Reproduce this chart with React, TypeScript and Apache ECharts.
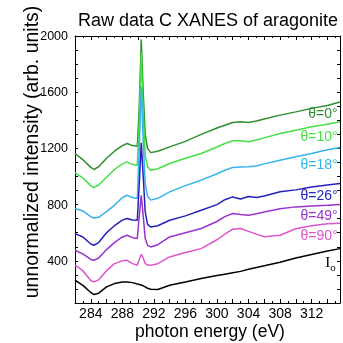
import React, { useEffect, useRef } from "react";
import * as echarts from "echarts";

const energy = [282, 283, 284, 284.4, 285, 286, 287, 288, 288.6, 289.3, 289.9, 290.15, 290.4, 290.65, 290.9, 291.2, 291.6, 292.5, 294, 296, 298, 300, 301, 302, 303, 304, 305, 306, 308, 310, 312, 314, 315.6];

const theta0 = [1164, 1120, 1065, 1050, 1070, 1130, 1180, 1220, 1235, 1220, 1215, 1500, 1975, 1600, 1300, 1200, 1170, 1180, 1211, 1250, 1300, 1345, 1365, 1385, 1390, 1385, 1395, 1410, 1437, 1460, 1485, 1505, 1530];
const theta10 = [1026, 990, 935, 922, 940, 995, 1050, 1090, 1104, 1085, 1080, 1400, 1880, 1450, 1150, 1070, 1045, 1055, 1093, 1130, 1164, 1210, 1235, 1255, 1255, 1247, 1260, 1275, 1306, 1330, 1354, 1372, 1389];
const theta18 = [772, 755, 715, 705, 710, 750, 795, 850, 867, 850, 844, 1200, 1640, 1250, 950, 860, 832, 845, 891, 935, 974, 1020, 1045, 1065, 1068, 1069, 1075, 1090, 1116, 1140, 1164, 1190, 1207];
const theta26 = [594, 570, 520, 511, 530, 600, 650, 690, 701, 690, 689, 950, 1240, 1000, 750, 660, 641, 650, 689, 720, 760, 800, 835, 855, 840, 858, 850, 862, 891, 905, 926, 940, 950];
const theta49 = [475, 450, 410, 404, 420, 480, 530, 570, 582, 565, 559, 720, 867, 720, 560, 510, 499, 515, 570, 600, 630, 680, 715, 737, 730, 725, 735, 748, 770, 784, 790, 796, 801];
const theta90 = [369, 330, 260, 250, 265, 330, 380, 400, 404, 380, 369, 410, 447, 420, 380, 370, 369, 380, 428, 460, 487, 550, 590, 625, 630, 610, 590, 572, 582, 628, 650, 664, 668];
const io = [262, 225, 175, 160, 170, 215, 238, 250, 250, 245, 235, 232, 228, 222, 215, 205, 198, 196, 226, 250, 275, 295, 305, 315, 325, 340, 352, 365, 390, 420, 445, 470, 487];

const curves = [theta0, theta10, theta18, theta26, theta49, theta90, io];
const names = ["θ=0°", "θ=10°", "θ=18°", "θ=26°", "θ=49°", "θ=90°", "Io"];
const colors = ["#2f8f2f", "#44e044", "#36b4ea", "#2222bb", "#9933cc", "#dd55cc", "#000000"];

// annotation anchor positions (data units)
const labelEnergy = 315.3;
const labelValues = [1449, 1287, 1088, 867, 725, 582, 392];

const xTickLabels = [284, 288, 292, 296, 300, 304, 308, 312];
const yTickLabels = [400, 800, 1200, 1600, 2000];

const FONT = "'Liberation Sans', Arial, Helvetica, sans-serif";

export default function App() {
  const ref = useRef<HTMLDivElement>(null);
  useEffect(() => {
    const chart = echarts.init(ref.current!, null, { renderer: "svg" });
    const axisLine = { show: true, lineStyle: { color: "#000", width: 1 } };
    const xBase = {
      type: "value",
      min: 282,
      max: 315.6,
      interval: 2,
      axisLine,
      splitLine: { show: false },
      axisTick: { show: true, inside: true, length: 4, lineStyle: { color: "#000" } },
      minorTick: { show: true, splitNumber: 2, length: 2, lineStyle: { color: "#000" } },
    };
    const yBase = {
      type: "value",
      min: 100,
      max: 2000,
      interval: 100,
      axisLine,
      splitLine: { show: false },
      axisTick: { show: true, inside: true, length: 3, lineStyle: { color: "#000" } },
    };
    const series = curves.map((vals, i) => ({
      type: "line",
      name: names[i],
      data: energy.map((e, j) => [e, vals[j]]),
      symbol: "none",
      showSymbol: false,
      silent: true,
      lineStyle: { color: colors[i], width: 1.5 },
      itemStyle: { color: colors[i] },
      xAxisIndex: 0,
      yAxisIndex: 0,
    }));
    chart.setOption({
      animation: false,
      grid: { left: 75, right: 2, top: 36, bottom: 40 },
      xAxis: [
        {
          ...xBase,
          position: "bottom",
          axisLabel: {
            show: true,
            color: "#000",
            fontFamily: FONT,
            fontSize: 14,
            margin: 3,
            formatter: (v: number) => (xTickLabels.includes(v) ? String(v) : ""),
          },
        },
        { ...xBase, position: "top", axisLabel: { show: false } },
      ],
      yAxis: [
        {
          ...yBase,
          position: "left",
          axisLabel: {
            show: true,
            color: "#000",
            fontFamily: FONT,
            fontSize: 12.5,
            margin: 7,
            formatter: (v: number) => (yTickLabels.includes(v) ? String(v) : ""),
          },
        },
        { ...yBase, position: "right", axisLabel: { show: false } },
      ],
      series,
    });

    const labelGraphics = names.map((n, i) => {
      const [px, py] = chart.convertToPixel({ xAxisIndex: 0, yAxisIndex: 0 }, [labelEnergy, labelValues[i]]);
      if (n === "Io") {
        return {
          type: "text",
          x: px - 2,
          y: py,
          style: {
            text: "{a|I}{b|o}",
            textAlign: "right",
            textVerticalAlign: "middle",
            fill: colors[i],
            rich: {
              a: { fontFamily: "'Liberation Serif', 'Times New Roman', serif", fontSize: 15, fill: "#000", verticalAlign: "bottom" },
              b: { fontFamily: "'Liberation Serif', 'Times New Roman', serif", fontSize: 11, fill: "#000", verticalAlign: "bottom", padding: [0, 0, -3, 0] },
            },
          },
        };
      }
      return {
        type: "text",
        x: px,
        y: py,
        style: {
          text: n,
          textAlign: "right",
          textVerticalAlign: "middle",
          fill: colors[i],
          font: `14px ${FONT}`,
        },
      };
    });

    chart.setOption({
      graphic: [
        {
          type: "text",
          x: 208,
          y: 20,
          style: { text: "Raw data C XANES of aragonite", font: `18px ${FONT}`, fill: "#000", textAlign: "center", textVerticalAlign: "middle" },
        },
        {
          type: "text",
          x: 210,
          y: 331,
          style: { text: "photon energy (eV)", font: `17.5px ${FONT}`, fill: "#000", textAlign: "center", textVerticalAlign: "middle" },
        },
        {
          type: "text",
          x: 31,
          y: 152,
          rotation: Math.PI / 2,
          style: { text: "unnormalized intensity (arb. units)", font: `19.5px ${FONT}`, fill: "#000", textAlign: "center", textVerticalAlign: "middle" },
        },
        ...labelGraphics,
      ],
    });
    return () => chart.dispose();
  }, []);
  return <div ref={ref} style={{ position: "fixed", left: 0, top: 0, width: 343, height: 343 }} />;
}
